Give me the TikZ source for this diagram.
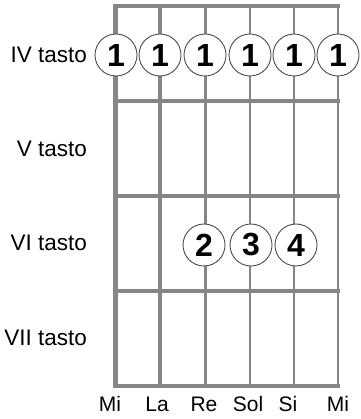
\documentclass[tikz,border=0pt]{standalone}
\usepackage{fontspec}
\setmainfont{Liberation Sans}
\begin{document}
\begin{tikzpicture}[x=1pt,y=-1pt,
  fret/.style={draw=gray!95, line width=3.5pt},
  strg/.style={draw=gray!95},
  finger/.style={circle, draw=black!70, line width=0.9pt, fill=white, minimum size=42pt, inner sep=0pt, font=\fontsize{32}{32}\selectfont\bfseries},
  fretlabel/.style={anchor=east, inner sep=0pt, font=\fontsize{22.5}{22.5}\selectfont},
  strlabel/.style={inner sep=0pt, font=\fontsize{21}{21}\selectfont}]
\useasboundingbox (0,0) rectangle (360,419);
% string coordinates
\foreach \n/\x in {1/115,2/160,3/205,4/250,5/294,6/338}{
  \coordinate (t\n) at (\x,6);
  \coordinate (b\n) at (\x,386);
}
% frets
\foreach \n/\y in {0/6,1/101,2/196,3/291,4/386}{
  \coordinate (fl\n) at (113,\y);
  \coordinate (fr\n) at (340,\y);
  \draw[fret] (fl\n) -- (fr\n);
}
% strings
\draw[strg, line width=5pt] (t1) -- (b1);
\draw[strg, line width=4pt] (t2) -- (b2);
\draw[strg, line width=3pt] (t3) -- (b3);
\draw[strg, line width=2.2pt] (t4) -- (b4);
\draw[strg, line width=1.6pt] (t5) -- (b5);
\draw[strg, line width=1.1pt] (t6) -- (b6);
% fret labels
\node[fretlabel] (l4) at (87,55) {IV tasto};
\node[fretlabel] (l5) at (87,149) {V tasto};
\node[fretlabel] (l6) at (87,243) {VI tasto};
\node[fretlabel] (l7) at (87,338) {VII tasto};
% fingers
\foreach \n/\x in {1/116,2/160,3/205,4/250,5/294,6/338}{
  \node[finger] (f\n) at (\x,55) {1};
}
\node[finger] (g2) at (204,245) {2};
\node[finger] (g3) at (251,245) {3};
\node[finger] (g4) at (296,245) {4};
% string labels
\node[strlabel] (s1) at (110,404) {Mi};
\node[strlabel] (s2) at (157,404) {La};
\node[strlabel] (s3) at (204,404) {Re};
\node[strlabel] (s4) at (248,404) {Sol};
\node[strlabel] (s5) at (288,404) {Si};
\node[strlabel] (s6) at (338,404) {Mi};
\end{tikzpicture}
\end{document}
